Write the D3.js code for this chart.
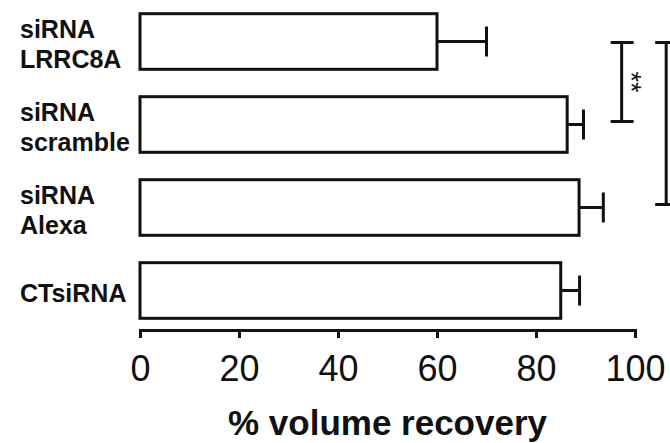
<!DOCTYPE html>
<html lang="en">
<head>
    <meta charset="UTF-8">
    <title>% volume recovery</title>
    <script src="https://d3js.org/d3.v7.min.js"></script>
    <style>
        body {
            margin: 0;
            background: #fff;
        }

        svg text {
            font-family: "Liberation Sans", Arial, sans-serif;
            fill: #111;
        }

        .axis path,
        .axis line {
            stroke: #111;
            stroke-width: 3;
        }

        .axis text {
            font-size: 36px;
        }

        .cat-label {
            font-size: 25px;
            font-weight: bold;
        }

        .axis-title {
            font-size: 35px;
            font-weight: bold;
        }
    </style>
</head>
<body>

<div id="chart"></div>

<script>
    // categories (label lines), bar means and SEM
    const categories = [["siRNA", "LRRC8A"], ["siRNA", "scramble"], ["siRNA", "Alexa"], ["CTsiRNA"]];
    const means = [60, 86.3, 88.7, 85];
    const errors = [10, 3.3, 4.9, 3.8];
    const tickValues = [0, 20, 40, 60, 80, 100];
    // significance brackets: from category, to category, x position (% units), label
    const brackets = [[0, 1, 97.3, "**"], [0, 2, 106.3, ""]];

    const width = 670;
    const height = 443;

    const svg = d3.select("#chart")
        .append("svg")
        .attr("width", width)
        .attr("height", height);

    const x = d3.scaleLinear()
        .domain([0, 100])
        .range([140, 635]);

    const y = d3.scaleBand()
        .domain(d3.range(categories.length))
        .range([0, 332])
        .paddingInner(0.33)
        .paddingOuter(0.165);

    const data = categories.map((c, i) => ({ i: i, lines: c, mean: means[i], err: errors[i] }));

    // error bars (drawn first so the bar outline sits on top)
    const errG = svg.append("g")
        .attr("stroke", "#111")
        .attr("stroke-width", 3);

    errG.selectAll(".err-line")
        .data(data)
        .enter()
        .append("line")
        .attr("x1", d => x(d.mean))
        .attr("x2", d => x(d.mean + d.err))
        .attr("y1", d => y(d.i) + y.bandwidth() / 2)
        .attr("y2", d => y(d.i) + y.bandwidth() / 2);

    errG.selectAll(".err-cap")
        .data(data)
        .enter()
        .append("line")
        .attr("x1", d => x(d.mean + d.err))
        .attr("x2", d => x(d.mean + d.err))
        .attr("y1", d => y(d.i) + y.bandwidth() / 2 - 15)
        .attr("y2", d => y(d.i) + y.bandwidth() / 2 + 15);

    // bars
    svg.selectAll(".bar")
        .data(data)
        .enter()
        .append("rect")
        .attr("class", "bar")
        .attr("x", x(0))
        .attr("y", d => y(d.i))
        .attr("width", d => x(d.mean) - x(0))
        .attr("height", y.bandwidth())
        .attr("fill", "#fff")
        .attr("stroke", "#111")
        .attr("stroke-width", 3);

    // category labels
    const labels = svg.selectAll(".cat-label")
        .data(data)
        .enter()
        .append("text")
        .attr("class", "cat-label")
        .attr("x", 20)
        .attr("y", d => y(d.i) + y.bandwidth() / 2);

    labels.selectAll("tspan")
        .data(d => d.lines.map((t, k) => ({ t: t, k: k, n: d.lines.length })))
        .enter()
        .append("tspan")
        .attr("x", 20)
        .attr("dy", d => d.n === 1 ? 11 : (d.k === 0 ? -4 : 30))
        .text(d => d.t);

    // x axis
    const xAxis = svg.append("g")
        .attr("class", "axis")
        .attr("transform", "translate(0,330)")
        .call(d3.axisBottom(x)
            .tickValues(tickValues)
            .tickSizeInner(8)
            .tickSizeOuter(8)
            .tickPadding(17));

    xAxis.selectAll("path").attr("fill", "none");

    svg.append("text")
        .attr("class", "axis-title")
        .attr("x", (x(0) + x(100)) / 2)
        .attr("y", 435)
        .attr("text-anchor", "middle")
        .text("% volume recovery");

    // significance brackets
    const brG = svg.append("g")
        .attr("stroke", "#111")
        .attr("stroke-width", 3)
        .attr("fill", "none");

    brackets.forEach(b => {
        const y1 = y(b[0]) + y.bandwidth() / 2 + 1;
        const y2 = y(b[1]) + y.bandwidth() / 2 - 3;
        const bx = x(b[2]);
        brG.append("line").attr("x1", bx).attr("x2", bx).attr("y1", y1).attr("y2", y2);
        brG.append("line").attr("x1", bx - 11).attr("x2", bx + 12).attr("y1", y1).attr("y2", y1);
        brG.append("line").attr("x1", bx - 11).attr("x2", bx + 12).attr("y1", y2).attr("y2", y2);
        if (b[3]) {
            svg.append("text")
                .attr("transform", `translate(${bx},${(y1 + y2) / 2}) rotate(90)`)
                .attr("text-anchor", "middle")
                .style("font-size", "27px")
                .text(b[3]);
        }
    });
</script>

</body>
</html>
